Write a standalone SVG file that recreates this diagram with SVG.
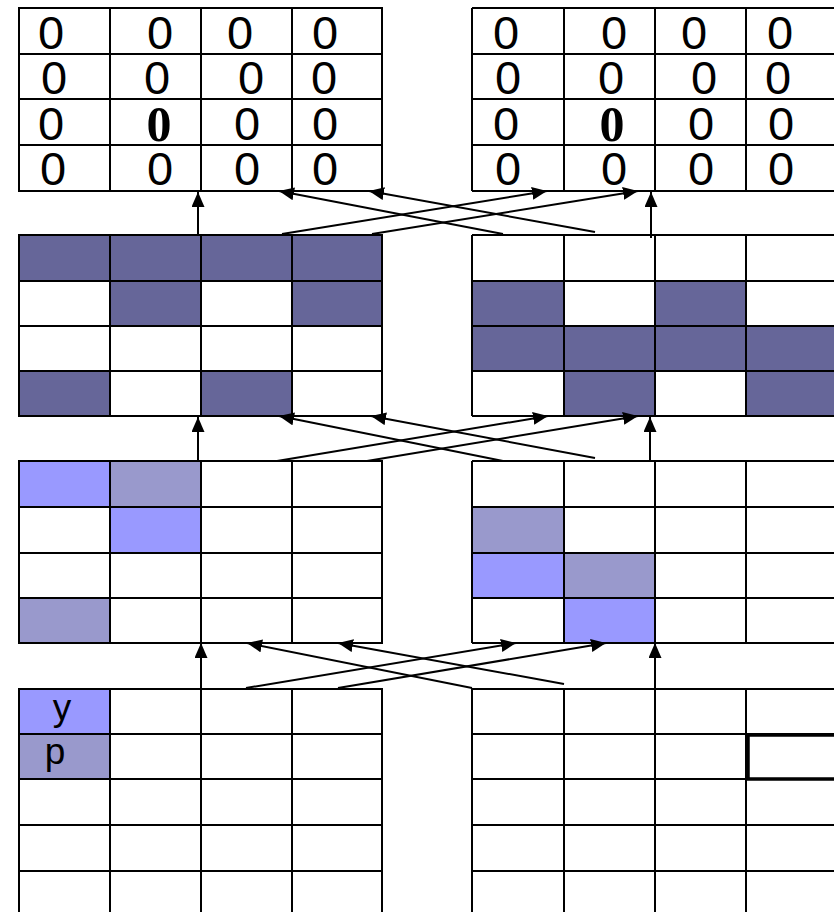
<svg xmlns="http://www.w3.org/2000/svg" width="834" height="912" viewBox="0 0 834 912">
<style>
.g{fill:none;stroke:#000;stroke-width:2}
.bg{fill:#fff}
.d{fill:#666699}
.b{fill:#9999ff}
.p{fill:#9999cc}
.z{font-family:"Liberation Sans",Arial,sans-serif;font-size:47px;fill:#000;text-anchor:middle}
.zb{font-family:"Liberation Serif","Times New Roman",serif;font-weight:bold;font-size:50px;fill:#000;text-anchor:middle}
.t{font-family:"Liberation Sans",Arial,sans-serif;font-size:37px;fill:#000;text-anchor:middle}
.c{fill:none;stroke:#000;stroke-width:2;marker-end:url(#ah)}
</style>
<defs>
<marker id="ah" markerUnits="userSpaceOnUse" markerWidth="15" markerHeight="13" refX="15" refY="6.5" orient="auto">
<path d="M0,0 L15,6.5 L0,13 z" fill="#000"/>
</marker>
</defs>
<rect width="834" height="912" fill="#fff"/>

<g id="grid1-left">
<rect class="bg" x="19" y="8" width="363" height="183"/>
<path class="g" d="M19,8H382V191H19Z M110,8V191 M201,8V191 M292,8V191 M19,54H382 M19,99H382 M19,145H382"/>
<text class="z" x="51" y="49">0</text><text class="z" x="160" y="49">0</text><text class="z" x="240" y="49">0</text><text class="z" x="325" y="49">0</text>
<text class="z" x="54" y="94">0</text><text class="z" x="157" y="94">0</text><text class="z" x="251" y="94">0</text><text class="z" x="324" y="94">0</text>
<text class="z" x="51" y="140">0</text><text class="zb" x="159" y="141">0</text><text class="z" x="247" y="140">0</text><text class="z" x="325" y="140">0</text>
<text class="z" x="53" y="185">0</text><text class="z" x="160" y="185">0</text><text class="z" x="247" y="185">0</text><text class="z" x="325" y="185">0</text>
</g>

<g id="grid1-right">
<rect class="bg" x="472" y="8" width="364" height="183"/>
<path class="g" d="M472,8H837 M472,191H837 M472,8V191 M564,8V191 M655,8V191 M746,8V191 M472,54H837 M472,99H837 M472,145H837"/>
<text class="z" x="506" y="49">0</text><text class="z" x="614" y="49">0</text><text class="z" x="694" y="49">0</text><text class="z" x="780" y="49">0</text>
<text class="z" x="508" y="94">0</text><text class="z" x="611" y="94">0</text><text class="z" x="704" y="94">0</text><text class="z" x="778" y="94">0</text>
<text class="z" x="506" y="140">0</text><text class="zb" x="612" y="141">0</text><text class="z" x="701" y="140">0</text><text class="z" x="781" y="140">0</text>
<text class="z" x="508" y="185">0</text><text class="z" x="614" y="185">0</text><text class="z" x="701" y="185">0</text><text class="z" x="781" y="185">0</text>
</g>

<g id="grid2-left">
<rect class="bg" x="19" y="235" width="363" height="181"/>
<rect class="d" x="19" y="235" width="363" height="46"/>
<rect class="d" x="110" y="281" width="91" height="45"/>
<rect class="d" x="292" y="281" width="90" height="45"/>
<rect class="d" x="19" y="371" width="91" height="45"/>
<rect class="d" x="201" y="371" width="91" height="45"/>
<path class="g" d="M19,235H382V416H19Z M110,235V416 M201,235V416 M292,235V416 M19,281H382 M19,326H382 M19,371H382"/>
</g>

<g id="grid2-right">
<rect class="bg" x="472" y="235" width="364" height="181"/>
<rect class="d" x="472" y="281" width="92" height="45"/>
<rect class="d" x="655" y="281" width="91" height="45"/>
<rect class="d" x="472" y="326" width="364" height="45"/>
<rect class="d" x="564" y="371" width="91" height="45"/>
<rect class="d" x="746" y="371" width="90" height="45"/>
<path class="g" d="M472,235H837 M472,416H837 M472,235V416 M564,235V416 M655,235V416 M746,235V416 M472,281H837 M472,326H837 M472,371H837"/>
</g>

<g id="grid3-left">
<rect class="bg" x="19" y="461" width="363" height="182"/>
<rect class="b" x="19" y="461" width="91" height="46"/>
<rect class="p" x="110" y="461" width="91" height="46"/>
<rect class="b" x="110" y="507" width="91" height="46"/>
<rect class="p" x="19" y="598" width="91" height="45"/>
<path class="g" d="M19,461H382V643H19Z M110,461V643 M201,461V643 M292,461V643 M19,507H382 M19,553H382 M19,598H382"/>
</g>

<g id="grid3-right">
<rect class="bg" x="472" y="461" width="364" height="182"/>
<rect class="p" x="472" y="507" width="92" height="46"/>
<rect class="b" x="472" y="553" width="92" height="45"/>
<rect class="p" x="564" y="553" width="91" height="45"/>
<rect class="b" x="564" y="598" width="91" height="45"/>
<path class="g" d="M472,461H837 M472,643H837 M472,461V643 M564,461V643 M655,461V643 M746,461V643 M472,507H837 M472,553H837 M472,598H837"/>
</g>

<g id="grid4-left">
<rect class="bg" x="19" y="689" width="363" height="225"/>
<rect class="b" x="19" y="689" width="91" height="45"/>
<rect class="p" x="19" y="734" width="91" height="45"/>
<path class="g" d="M19,914V689H382V914 M110,689V914 M201,689V914 M292,689V914 M19,734H382 M19,779H382 M19,825H382 M19,871H382"/>
<text class="t" x="62" y="720">y</text>
<text class="t" x="55" y="764">p</text>
</g>

<g id="grid4-right">
<rect class="bg" x="472" y="689" width="364" height="225"/>
<path class="g" d="M472,914V689H837 M564,689V914 M655,689V914 M746,689V914 M472,734H837 M472,779H837 M472,825H837 M472,871H837"/>
<path fill="none" stroke="#000" stroke-width="3.5" d="M837,735H748V779H837"/>
</g>

<g id="connectors">
<path class="c" d="M198,235V192"/>
<path class="c" d="M651,238V192"/>
<path class="c" d="M282,234L547,191"/>
<path class="c" d="M372,234L638,191"/>
<path class="c" d="M503,234L279,191"/>
<path class="c" d="M595,232L369,191"/>

<path class="c" d="M198,461V417"/>
<path class="c" d="M650,461V417"/>
<path class="c" d="M277,461L548,416"/>
<path class="c" d="M367,461L638,416"/>
<path class="c" d="M503,461L279,416"/>
<path class="c" d="M595,458L371,416"/>

<path class="c" d="M201,688V643"/>
<path class="c" d="M655,688V643"/>
<path class="c" d="M246,688L516,643"/>
<path class="c" d="M338,688L606,643"/>
<path class="c" d="M472,688L247,643"/>
<path class="c" d="M564,684L338,643"/>
</g>
</svg>
